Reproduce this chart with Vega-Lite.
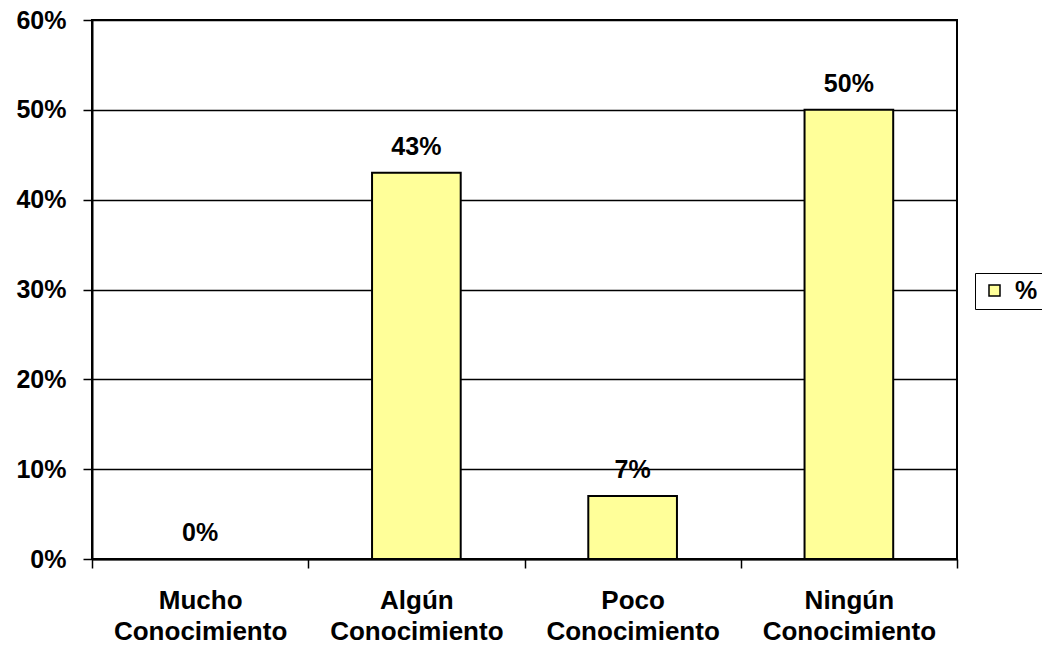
{
  "$schema": "https://vega.github.io/schema/vega-lite/v6.json",
  "autosize": "none",
  "width": 865,
  "height": 539,
  "padding": {"left": 92, "top": 20, "right": 85, "bottom": 88},
  "background": "white",
  "data": {
    "values": [
      {"categoria": "Mucho Conocimiento", "serie": "%", "valor": 0},
      {"categoria": "Algún Conocimiento", "serie": "%", "valor": 0.43},
      {"categoria": "Poco Conocimiento", "serie": "%", "valor": 0.07},
      {"categoria": "Ningún Conocimiento", "serie": "%", "valor": 0.5}
    ]
  },
  "config": {
    "font": "Liberation Sans",
    "view": {"stroke": "black", "strokeWidth": 2}
  },
  "encoding": {
    "x": {
      "field": "categoria",
      "type": "nominal",
      "sort": null,
      "scale": {"paddingInner": 0, "paddingOuter": 0},
      "axis": {
        "title": null,
        "labelAngle": 0,
        "labelExpr": "split(datum.label, ' ')",
        "labelFont": "Liberation Sans",
        "labelFontWeight": "bold",
        "labelFontSize": 26,
        "labelColor": "black",
        "labelLineHeight": 31,
        "labelPadding": 19,
        "tickBand": "extent",
        "tickSize": 9,
        "tickColor": "black",
        "tickWidth": 1.5,
        "domainColor": "black",
        "domainWidth": 2,
        "grid": false
      }
    },
    "y": {
      "field": "valor",
      "type": "quantitative",
      "scale": {"domain": [0, 0.6], "nice": false},
      "axis": {
        "title": null,
        "format": ".0%",
        "values": [0, 0.1, 0.2, 0.3, 0.4, 0.5, 0.6],
        "labelFont": "Liberation Sans",
        "labelFontWeight": "bold",
        "labelFontSize": 25,
        "labelColor": "black",
        "labelPadding": 17,
        "tickSize": 9,
        "tickColor": "black",
        "tickWidth": 1.5,
        "domainColor": "black",
        "domainWidth": 2,
        "grid": true,
        "gridColor": "black",
        "gridWidth": 1.5
      }
    }
  },
  "layer": [
    {
      "mark": {"type": "bar", "stroke": "black", "strokeWidth": 2, "width": {"band": 0.41}},
      "encoding": {
        "color": {
          "field": "serie",
          "type": "nominal",
          "scale": {"range": ["#FFFF99"]},
          "legend": {
            "title": null,
            "orient": "none",
            "legendX": 883,
            "legendY": 253,
            "padding": 5,
            "strokeColor": "black",
            "symbolType": "square",
            "symbolSize": 121,
            "symbolOffset": 2,
            "symbolStrokeColor": "black",
            "symbolStrokeWidth": 1.5,
            "symbolOpacity": 1,
            "labelFont": "Liberation Sans",
            "labelFontWeight": "bold",
            "labelFontSize": 25,
            "labelColor": "black",
            "labelOffset": 8
          }
        }
      }
    },
    {
      "mark": {
        "type": "text",
        "dy": -18,
        "baseline": "alphabetic",
        "font": "Liberation Sans",
        "fontWeight": "bold",
        "fontSize": 25,
        "color": "black"
      },
      "encoding": {
        "text": {"field": "valor", "type": "quantitative", "format": ".0%"}
      }
    }
  ]
}
